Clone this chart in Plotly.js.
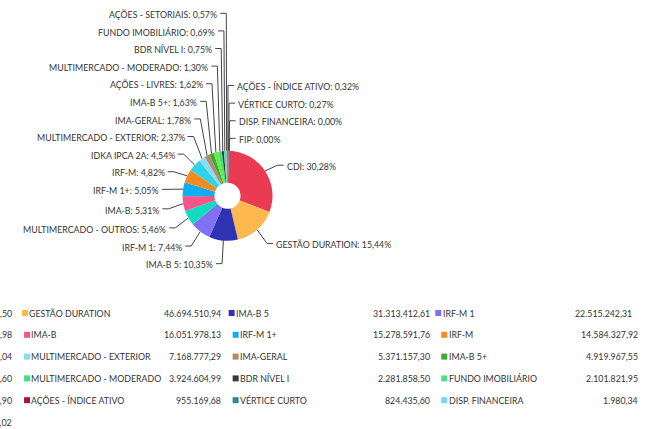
<!DOCTYPE html>
<html><head><meta charset="utf-8">
<script src="https://cdn.plot.ly/plotly-3.0.1.min.js"></script>
<style>html,body{margin:0;padding:0;background:#fff;overflow:hidden}#chart{width:647px;height:429px}</style>
</head><body><div id="chart"></div>
<script>
const categories = ["CDI","GESTÃO DURATION","IMA-B 5","IRF-M 1","MULTIMERCADO - OUTROS","IMA-B","IRF-M 1+","IRF-M","IDKA IPCA 2A","MULTIMERCADO - EXTERIOR","IMA-GERAL","IMA-B 5+","AÇÕES - LIVRES","MULTIMERCADO - MODERADO","BDR NÍVEL I","FUNDO IMOBILIÁRIO","AÇÕES - SETORIAIS","AÇÕES - ÍNDICE ATIVO","VÉRTICE CURTO","DISP. FINANCEIRA","FIP"];
const values = [91597186.50,46694510.94,31313412.61,22515242.31,16517063.98,16051978.13,15278591.76,14584327.92,13733845.04,7168777.29,5371157.30,4919967.55,4901238.60,3924604.99,2281858.50,2101821.95,1724013.90,955169.68,824435.60,1980.34,1000.02];
const colors = ["#ea3b52","#fdb94e","#2f33b3","#8070f2","#12dcbf","#f4558a","#10aef0","#f58a20","#2fd3e6","#89dcf2","#b8876c","#40a83a","#66ee3a","#40e47e","#363a40","#4cdc8e","#a8b4bc","#a3124b","#2a8a8e","#7ad6f8","#c9d7e0"];

const W = 647, H = 429;
const FONT = "Lato, 'Open Sans', sans-serif";
const FS = 8.8;
const TXT = "#333333";
const total = values.reduce((a,b)=>a+b,0);
function fmtBR(v){const p=v.toFixed(2).split('.');return p[0].replace(/\B(?=(\d{3})+(?!\d))/g,'.')+','+p[1];}
function pct(v){return (v/total*100).toFixed(2).replace('.',',')+'%';}

// pie geometry
const cx = 227.5, cy = 195.8, R0 = 45, HOLE = 0.29, ROT = 2;
const RL = 60, LEN2 = 6, GAP = 3, STEP = 17.6, LDY = 2.5;

const items = [];
let cum = 0;
values.forEach((v,i)=>{
  const mid = ROT + (cum + v/2)/total*360; cum += v;
  const a = mid*Math.PI/180, s = Math.sin(a), c = Math.cos(a);
  items.push({i, side: s>=0?1:-1, x0: cx+R0*s, y0: cy-R0*c, qx: cx+RL*s, qy: cy+LDY-RL*c});
});
[1,-1].forEach(side=>{
  const m = cy+LDY;
  const up = items.filter(o=>o.side===side && o.qy<m).sort((a,b)=>b.qy-a.qy);
  const dn = items.filter(o=>o.side===side && o.qy>=m).sort((a,b)=>a.qy-b.qy);
  let prev = Infinity; up.forEach(o=>{o.ly=Math.min(o.qy,prev-STEP);prev=o.ly;});
  prev = -Infinity; dn.forEach(o=>{o.ly=Math.max(o.qy,prev+STEP);prev=o.ly;});
});

const lx=[], ly=[];
const annotations = [];
function ann(x,y,anchor,text){
  return {xref:'x',yref:'y',x:x,y:y,xanchor:anchor,yanchor:'middle',showarrow:false,
    borderpad:0,borderwidth:0,text:text,font:{family:FONT,size:FS,color:TXT}};
}
items.forEach(o=>{
  lx.push(o.x0, o.qx, o.qx+o.side*LEN2, null);
  ly.push(o.y0, o.ly, o.ly, null);
  annotations.push(ann(o.qx+o.side*(LEN2+GAP), o.ly+1.2, o.side>0?'left':'right',
    categories[o.i]+': '+pct(values[o.i])));
});

// legend table
const COLS = 4, COLW = 208.6, VAL0 = 12.3, ROW0 = 313, ROWH = 21.8, SQ = 12, NAMEOFF = 7;
const sqx=[], sqy=[], sqc=[];
categories.forEach((name,i)=>{
  const r = Math.floor(i/COLS), c = i%COLS;
  const y = ROW0 + r*ROWH;
  const shift = r===0 ? -2*c : 0;
  const valEnd = VAL0 + c*COLW + (r===0 && c===3 ? -6 : 0);
  const sq = VAL0 + (c-1)*COLW + SQ + shift;
  sqx.push(sq+2.75); sqy.push(y); sqc.push(colors[i]);
  annotations.push(ann(sq+NAMEOFF, y, 'left', name));
  annotations.push(ann(valEnd, y, 'right', fmtBR(values[i])));
});

const data = [
  {type:'pie', values:values, labels:categories, sort:false, direction:'clockwise', rotation:ROT,
   hole:HOLE, textinfo:'none', showlegend:false, hoverinfo:'label+percent',
   marker:{colors:colors, line:{width:0}},
   domain:{x:[(cx-R0)/W,(cx+R0)/W], y:[1-(cy+R0)/H,1-(cy-R0)/H]}},
  {type:'scatter', mode:'lines', x:lx, y:ly, line:{color:'#444',width:1}, hoverinfo:'skip', showlegend:false},
  {type:'scatter', mode:'markers', x:sqx, y:sqy, marker:{symbol:'square',size:6,color:sqc}, hoverinfo:'skip', showlegend:false}
];
const layout = {
  width:W, height:H, margin:{l:0,r:0,t:0,b:0}, paper_bgcolor:'#fff', plot_bgcolor:'rgba(0,0,0,0)',
  xaxis:{range:[0,W], visible:false, fixedrange:true},
  yaxis:{range:[H,0], visible:false, fixedrange:true},
  annotations:annotations, showlegend:false
};
Plotly.newPlot('chart', data, layout, {displayModeBar:false, staticPlot:true});
</script></body></html>
